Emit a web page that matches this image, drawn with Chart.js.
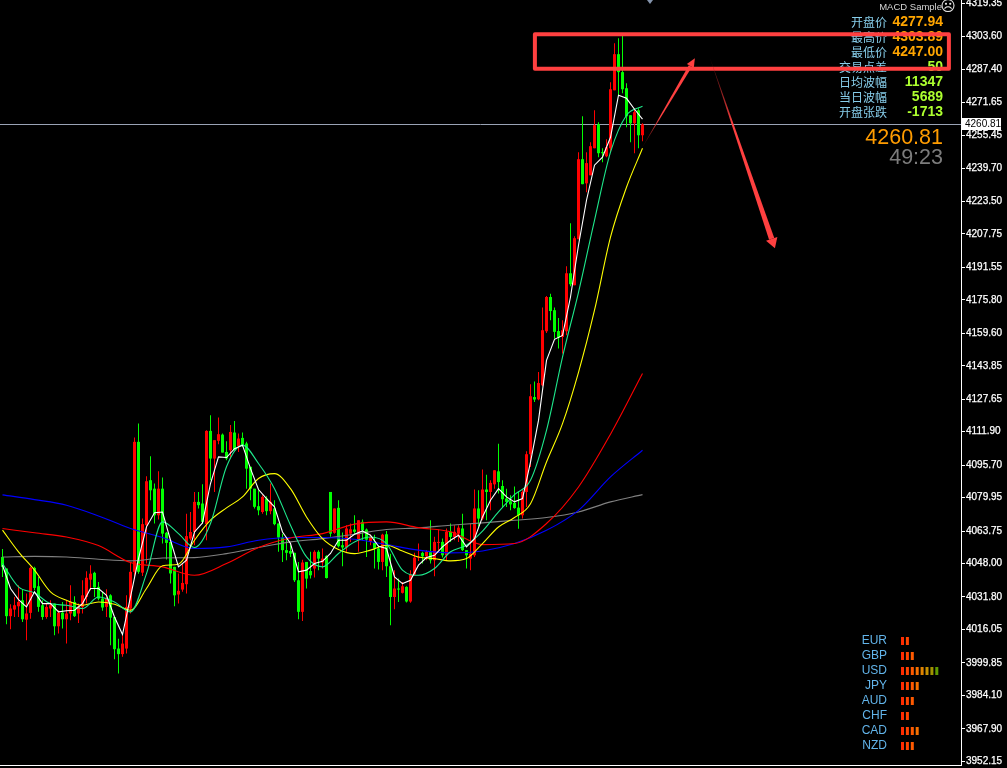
<!DOCTYPE html>
<html>
<head>
<meta charset="utf-8">
<title>MACD Sample</title>
<script src="https://cdn.jsdelivr.net/npm/chart.js@4/dist/chart.umd.min.js"></script>
<style>
  html, body { margin: 0; padding: 0; background: #000; overflow: hidden; }
  canvas { display: block; }
</style>
</head>
<body>
<canvas id="chart" width="1007" height="768"></canvas>
<script>
// ── Candles, index 0 is the oldest bar ──
const opens = [
  4051.2,4045.6,4022.5,4025.7,4027.3,4030.2,4020.8,4024.1,4045.9,4037.0,
  4027.8,4022.1,4026.2,4028.6,4017.6,4024.2,4021.0,4023.8,4029.4,4023.8,
  4027.0,4031.8,4040.2,4043.5,4036.7,4031.0,4027.0,4032.6,4022.1,4006.8,
  4004.1,4006.8,4026.2,4044.0,4107.0,4043.6,4066.6,4088.4,4084.3,4071.4,
  4084.3,4062.9,4058.5,4046.4,4033.0,4035.4,4038.0,4060.1,4063.3,4077.9,
  4077.1,4067.1,4112.3,4098.9,4107.5,4110.5,4102.1,4102.9,4111.5,4104.9,
  4108.9,4106.2,4094.9,4084.3,4075.8,4073.0,4079.5,4073.4,4074.7,4067.4,
  4060.6,4054.5,4054.1,4053.2,4039.9,4024.6,4048.8,4044.4,4045.6,4053.7,
  4048.5,4051.7,4082.7,4062.9,4075.0,4056.9,4055.8,4062.5,4064.5,4059.3,
  4068.2,4064.5,4058.5,4058.0,4055.3,4048.8,4062.2,4046.7,4031.8,4035.9,
  4033.8,4036.7,4029.6,4042.7,4050.9,4053.2,4051.5,4053.5,4049.6,4058.0,
  4058.5,4052.0,4063.4,4060.9,4062.5,4065.0,4054.5,4050.4,4052.0,4074.7,
  4069.8,4083.9,4082.7,4086.4,4092.7,4085.6,4079.5,4078.2,4077.4,4075.1,
  4071.4,4082.7,4101.0,4128.7,4127.6,4134.4,4160.6,4177.2,4170.8,4160.7,
  4157.8,4160.6,4188.7,4182.9,4205.2,4244.0,4232.3,4236.2,4249.3,4260.9,
  4247.4,4245.4,4249.3,4277.4,4294.9,4286.2,4278.4,4265.3,4261.4,4267.7,
  4255.6
];
const highs = [
  4055.0,4045.6,4028.3,4031.8,4037.5,4035.4,4033.5,4046.4,4046.4,4041.5,
  4030.2,4028.6,4030.2,4028.6,4025.4,4029.4,4030.2,4037.5,4032.2,4028.6,
  4039.9,4044.3,4047.2,4044.0,4039.1,4034.3,4035.6,4033.1,4022.1,4011.6,
  4013.3,4032.6,4048.8,4109.1,4115.9,4069.8,4090.3,4100.0,4086.8,4092.8,
  4089.7,4063.3,4058.5,4046.4,4043.2,4048.0,4072.2,4073.0,4082.7,4082.7,
  4086.5,4112.6,4119.9,4107.8,4118.8,4111.0,4107.3,4115.1,4117.1,4111.0,
  4111.5,4107.0,4094.9,4084.3,4083.5,4081.1,4080.6,4086.8,4078.7,4067.4,
  4062.5,4060.1,4056.9,4053.2,4048.8,4049.9,4048.8,4053.7,4054.5,4054.5,
  4055.3,4052.0,4082.7,4074.7,4078.7,4063.0,4066.6,4067.4,4071.4,4069.0,
  4069.3,4065.0,4062.0,4062.0,4056.9,4062.5,4063.8,4052.8,4044.8,4040.7,
  4039.1,4037.0,4044.8,4053.2,4057.7,4053.7,4054.5,4069.0,4061.0,4064.5,
  4060.1,4065.0,4067.4,4066.6,4066.6,4072.2,4054.5,4067.4,4083.9,4083.5,
  4093.6,4091.1,4088.4,4093.2,4106.1,4088.4,4084.3,4081.1,4085.4,4082.9,
  4083.5,4102.4,4134.9,4136.3,4140.9,4172.1,4177.7,4178.8,4172.1,4167.0,
  4165.9,4192.1,4212.9,4206.7,4247.4,4264.8,4247.4,4252.2,4267.7,4261.9,
  4249.3,4253.7,4281.3,4300.2,4302.6,4303.89,4280.8,4265.3,4268.7,4268.7,
  4261.4
];
const lows = [
  4041.5,4018.6,4016.2,4022.1,4022.1,4019.7,4010.8,4021.3,4035.1,4024.6,
  4020.8,4021.3,4022.1,4013.3,4014.1,4016.5,4009.2,4020.5,4022.1,4019.2,
  4023.8,4028.6,4035.1,4031.8,4030.2,4025.1,4022.1,4008.4,4001.6,3994.7,
  4002.8,4004.4,4023.8,4041.5,4043.1,4042.0,4048.0,4078.7,4067.4,4069.3,
  4057.7,4050.0,4038.3,4027.3,4028.6,4034.3,4033.5,4059.3,4056.9,4074.7,
  4067.4,4059.3,4088.4,4082.7,4105.8,4101.8,4098.1,4098.9,4102.9,4102.1,
  4104.5,4084.3,4078.7,4074.7,4071.4,4072.2,4071.4,4071.9,4066.6,4053.7,
  4048.8,4049.6,4051.2,4039.1,4021.0,4020.2,4035.9,4040.7,4041.2,4044.8,
  4045.6,4040.7,4061.0,4062.5,4055.8,4046.7,4053.7,4058.5,4062.5,4053.7,
  4059.3,4051.2,4056.9,4045.6,4045.1,4044.8,4041.5,4018.1,4025.9,4029.4,
  4033.5,4029.1,4029.0,4042.3,4049.3,4048.0,4049.6,4048.0,4041.9,4054.5,
  4050.9,4049.6,4058.5,4059.3,4058.5,4054.1,4045.6,4044.8,4051.2,4065.8,
  4069.0,4069.0,4073.8,4084.3,4081.9,4075.4,4075.4,4073.8,4074.6,4064.9,
  4069.8,4075.4,4094.8,4126.3,4127.1,4133.9,4159.8,4165.9,4157.0,4152.2,
  4149.8,4158.7,4182.4,4182.9,4205.2,4231.9,4228.0,4236.2,4249.3,4245.0,
  4242.5,4245.0,4247.4,4277.4,4275.0,4276.0,4259.5,4252.2,4246.9,4249.3,
  4252.7
];
const closes = [
  4046.4,4022.5,4026.2,4027.8,4029.4,4021.0,4023.8,4045.9,4036.2,4027.0,
  4022.1,4027.0,4027.8,4017.6,4024.2,4021.0,4023.8,4029.4,4022.5,4027.3,
  4032.6,4041.1,4043.1,4036.4,4031.0,4026.7,4031.0,4021.8,4006.5,4004.1,
  4009.2,4027.0,4044.0,4107.0,4044.0,4067.1,4087.9,4083.5,4071.4,4084.3,
  4062.5,4058.0,4043.2,4032.6,4034.8,4038.6,4061.3,4063.3,4077.9,4076.3,
  4068.2,4112.3,4098.9,4107.8,4110.7,4101.8,4098.9,4111.8,4102.9,4108.6,
  4105.4,4094.0,4084.3,4075.5,4073.8,4080.3,4073.4,4077.9,4067.1,4060.6,
  4054.5,4053.2,4052.8,4039.9,4024.6,4048.5,4040.7,4042.3,4053.7,4050.4,
  4050.4,4041.0,4062.5,4074.7,4056.4,4055.8,4065.0,4064.6,4063.4,4069.0,
  4064.2,4059.6,4060.9,4055.3,4048.8,4062.0,4046.7,4031.8,4035.9,4035.4,
  4037.0,4029.6,4042.7,4050.9,4051.2,4051.5,4053.7,4049.6,4058.5,4058.5,
  4052.0,4063.4,4060.9,4063.4,4065.4,4054.5,4052.0,4052.8,4074.7,4069.8,
  4083.9,4082.7,4087.1,4093.2,4087.5,4079.2,4077.9,4076.7,4074.9,4071.4,
  4082.7,4101.0,4129.1,4127.5,4135.5,4161.1,4177.2,4170.4,4160.3,4157.5,
  4161.1,4188.7,4183.4,4205.7,4244.0,4231.9,4242.1,4250.3,4260.5,4246.9,
  4246.9,4249.8,4277.9,4294.9,4286.2,4277.9,4264.8,4261.4,4266.8,4255.6,
  4260.81
];

// ── Moving averages, read every 2nd / 4th / 8th bar ──
const whiteMa = [
  4047.2,4035.9,4030.5,4027.0,4034.3,4028.6,4028.6,4024.6,4025.1,4025.4,
  4028.6,4035.9,4035.9,4032.6,4022.1,4013.6,4031.8,4050.4,4065.8,4072.6,
  4073.0,4059.3,4046.4,4049.6,4063.3,4067.7,4086.8,4099.7,4099.4,4103.7,
  4105.4,4094.0,4083.9,4079.5,4075.5,4063.3,4057.7,4044.0,4044.8,4048.0,
  4049.1,4052.9,4059.3,4059.3,4062.2,4063.8,4061.7,4056.4,4055.3,4041.5,
  4038.3,4039.9,4047.2,4050.9,4052.0,4056.1,4059.3,4061.7,4056.1,4060.1,
  4070.6,4078.7,4084.3,4080.3,4077.9,4079.5,4097.2,4117.4,4146.5,4156.7,
  4158.6,4177.2,4202.3,4224.1,4241.1,4245.0,4254.6,4275.0,4273.5,4268.2,
  4263.4
];
const greenMa = [
  4048.0,4036.7,4033.8,4028.6,4027.8,4026.2,4031.8,4029.4,4024.6,4043.1,
  4068.2,4062.5,4055.8,4067.4,4094.9,4105.4,4096.5,4084.3,4066.6,4051.2,
  4046.4,4052.9,4058.5,4060.9,4057.7,4044.8,4042.3,4045.6,4053.7,4056.9,
  4063.7,4073.0,4081.4,4088.4,4112.6,4148.1,4179.5,4214.4,4247.4,4265.3,
  4269.7
];
const yellowMa = [
  4064.2,4053.7,4044.8,4034.3,4030.2,4027.8,4029.4,4028.3,4025.4,4035.9,
  4046.9,4047.7,4059.3,4069.0,4075.0,4080.3,4089.2,4091.6,4084.3,4070.6,
  4060.1,4054.8,4052.8,4054.5,4056.9,4054.1,4051.2,4050.4,4049.3,4050.4,
  4057.7,4065.7,4070.3,4077.0,4097.2,4115.8,4140.7,4170.8,4206.2,4230.4,
  4249.3
];
const redMa = [
  4065.0,4062.9,4060.9,4056.7,4048.5,4046.4,4042.3,4048.0,4055.8,4060.4,4062.5,
  4067.1,4068.2,4065.4,4063.4,4057.2,4057.7,4067.4,4085.1,4110.7,4140.1
];
const blueMa = [
  4081.3,4079.0,4076.3,4071.1,4065.0,4060.6,4055.3,4056.1,4059.3,4060.6,4060.6,
  4059.8,4057.2,4054.5,4053.2,4054.1,4057.7,4064.1,4073.8,4090.0,4102.9
];
const greyMa = [
  4051.2,4051.5,4051.2,4050.1,4049.3,4050.7,4050.9,4052.8,4055.8,4058.5,4060.1,
  4062.2,4064.5,4065.3,4066.6,4067.7,4069.0,4070.3,4073.0,4077.9,4081.4
];

// ── Axis ──
const priceTicks = [
  4319.35,4303.60,4287.40,4271.65,4255.45,4239.70,4223.50,4207.75,
  4191.55,4175.80,4159.60,4143.85,4127.65,4111.90,4095.70,4079.95,
  4063.75,4048.00,4031.80,4016.05,3999.85,3984.10,3967.90,3952.15
];
const lastPrice = 4260.81;

// ── Info panel ──
const panelLabels = ['开盘价', '最高价', '最低价', '交易点差', '日均波幅', '当日波幅', '开盘张跌'];
const panelValues = ['4277.94', '4303.89', '4247.00', '50', '11347', '5689', '-1713'];
const countdown = '49:23';

// ── Currency strength ──
const currencies = ['EUR', 'GBP', 'USD', 'JPY', 'AUD', 'CHF', 'CAD', 'NZD'];
const strengths = [2, 3, 8, 4, 3, 2, 4, 3];

// ── Hand-drawn marks, as [bar, price] ──
const boxCorners = [[133.1, 4304.6], [236.6, 4287.85]];
const arrowUp = [[159.9, 4249.6], [173.1, 4292.9]];
const arrowDown = [[176.9, 4292.9], [193.1, 4200.8]];

const RED = '#ff0000';
const GREEN = '#00ff00';
const MARK = '#ff4040';
const LABEL = '#87ceeb';
const STRENGTH_COLORS = ['#ff2c00', '#ff4400', '#ff5a00', '#f57000', '#e08400', '#c49000', '#a09400', '#5f9a00'];

function lineFrom(values, step, color, order, width) {
  return {
    type: 'line',
    data: values.map((y, i) => ({ x: i * step, y })),
    borderColor: color,
    borderWidth: width || 1.1,
    pointRadius: 0,
    cubicInterpolationMode: step > 2 ? 'monotone' : 'default',
    order,
  };
}

const barColors = closes.map((c, i) => (c >= opens[i] ? RED : GREEN));

// ═══════════════════════════════════════
// Overlay: panel, strength table, hand marks
// ═══════════════════════════════════════
function drawArrow(ctx, x0, y0, x1, y1, width, headLen, headWidth) {
  const len = Math.hypot(x1 - x0, y1 - y0);
  const ux = (x1 - x0) / len, uy = (y1 - y0) / len;
  const nx = -uy, ny = ux;
  const bx = x1 - ux * headLen, by = y1 - uy * headLen;
  const grad = ctx.createLinearGradient(x0, y0, x1, y1);
  grad.addColorStop(0, 'rgba(120,20,20,0.5)');
  grad.addColorStop(0.35, MARK);
  grad.addColorStop(1, MARK);
  ctx.fillStyle = grad;
  ctx.beginPath();
  ctx.moveTo(x0, y0);
  ctx.lineTo(bx + nx * width / 2, by + ny * width / 2);
  ctx.lineTo(bx - nx * width / 2, by - ny * width / 2);
  ctx.closePath();
  ctx.fill();
  ctx.beginPath();
  ctx.moveTo(x1, y1);
  ctx.lineTo(bx + nx * headWidth / 2, by + ny * headWidth / 2);
  ctx.lineTo(bx - nx * headWidth / 2, by - ny * headWidth / 2);
  ctx.closePath();
  ctx.fill();
}

const overlay = {
  id: 'overlay',
  afterDraw(chart) {
    const { ctx, scales: { x, y } } = chart;
    ctx.save();

    // Fixed-position marker on the top edge
    ctx.fillStyle = '#8494ac';
    ctx.beginPath();
    ctx.moveTo(647, 0);
    ctx.lineTo(653, 0);
    ctx.lineTo(650, 4);
    ctx.closePath();
    ctx.fill();

    // Last price tag
    ctx.fillStyle = '#fff';
    ctx.fillRect(962, 118, 39, 12);
    ctx.fillStyle = '#000';
    ctx.font = "10px 'Liberation Sans'";
    ctx.textAlign = 'left';
    ctx.textBaseline = 'middle';
    ctx.fillText(lastPrice.toFixed(2), 965, 124.5);

    // EA title
    ctx.textAlign = 'right';
    ctx.fillStyle = '#d4d4d4';
    ctx.font = "9.5px 'Liberation Sans'";
    ctx.fillText('MACD Sample', 942, 7);
    ctx.fillStyle = '#e8e8e8';
    ctx.font = "15px 'DejaVu Sans'";
    ctx.fillText('☹', 956, 7);

    // Info rows
    const rowY = [22.5, 37.5, 52.5, 67, 82, 97, 112];
    panelLabels.forEach((label, i) => {
      ctx.fillStyle = LABEL;
      ctx.font = "12px 'Noto Sans CJK SC'";
      ctx.fillText(label, 887, rowY[i]);
      ctx.fillStyle = i < 3 ? '#ffa500' : '#adff2f';
      ctx.font = "bold 14px 'Liberation Sans'";
      ctx.fillText(panelValues[i], 943, rowY[i]);
    });

    ctx.font = "21.5px 'Liberation Sans'";
    ctx.fillStyle = '#ff9c00';
    ctx.fillText(lastPrice.toFixed(2), 943, 138);
    ctx.fillStyle = '#7c7c7c';
    ctx.fillText(countdown, 943, 158);

    // Currency strength
    currencies.forEach((name, i) => {
      const cy = 641 + i * 15;
      ctx.fillStyle = '#62b4ea';
      ctx.font = "12px 'Liberation Sans'";
      ctx.fillText(name, 887, cy);
      for (let n = 0; n < strengths[i]; n++) {
        ctx.fillStyle = STRENGTH_COLORS[n];
        ctx.fillRect(901 + n * 4.9, cy - 4, 3, 8);
      }
    });

    // Red rectangle
    const left = x.getPixelForValue(boxCorners[0][0]);
    const top = y.getPixelForValue(boxCorners[0][1]);
    const right = x.getPixelForValue(boxCorners[1][0]);
    const bottom = y.getPixelForValue(boxCorners[1][1]);
    ctx.strokeStyle = MARK;
    ctx.lineWidth = 4;
    ctx.lineJoin = 'round';
    ctx.strokeRect(left, top, right - left, bottom - top);

    // Arrows
    drawArrow(ctx, x.getPixelForValue(arrowUp[0][0]), y.getPixelForValue(arrowUp[0][1]),
      x.getPixelForValue(arrowUp[1][0]), y.getPixelForValue(arrowUp[1][1]), 3.5, 9, 8);
    drawArrow(ctx, x.getPixelForValue(arrowDown[0][0]), y.getPixelForValue(arrowDown[0][1]),
      x.getPixelForValue(arrowDown[1][0]), y.getPixelForValue(arrowDown[1][1]), 5.5, 10, 12);

    ctx.restore();
  }
};

// ═══════════════════════════════════════
// Chart
// ═══════════════════════════════════════
new Chart(document.getElementById('chart'), {
  data: {
    datasets: [
      {
        type: 'line',
        data: [{ x: -1, y: lastPrice }, { x: 241, y: lastPrice }],
        borderColor: '#9aa3b5',
        borderWidth: 1,
        pointRadius: 0,
        order: 10,
      },
      {
        type: 'bar',
        data: highs.map((h, i) => ({ x: i, y: [lows[i], h] })),
        backgroundColor: barColors,
        barThickness: 1,
        grouped: false,
        inflateAmount: 0,
        order: 9,
      },
      {
        type: 'bar',
        data: opens.map((o, i) => ({ x: i, y: [o, closes[i]] })),
        backgroundColor: barColors,
        barThickness: 3,
        grouped: false,
        inflateAmount: 0,
        order: 8,
      },
      lineFrom(greyMa, 8, '#808080', 7),
      lineFrom(blueMa, 8, '#0000ff', 6),
      lineFrom(redMa, 8, RED, 5),
      lineFrom(yellowMa, 4, '#ffff00', 4),
      lineFrom(greenMa, 4, '#1ee88c', 3),
      lineFrom(whiteMa, 2, '#ffffff', 2),
    ],
  },
  options: {
    responsive: false,
    animation: false,
    events: [],
    layout: { autoPadding: false, padding: { bottom: 3 } },
    plugins: { legend: { display: false }, tooltip: { enabled: false } },
    scales: {
      x: {
        type: 'linear',
        min: -0.625,
        max: 239.625,
        offset: false,
        grid: { display: false },
        border: { color: '#fff', width: 1 },
        ticks: { display: false },
        afterFit: (scale) => { scale.height = 0; },
      },
      y: {
        position: 'right',
        min: 3950.36,
        max: 4321.16,
        grid: { drawOnChartArea: false, color: '#fff', tickLength: 4 },
        border: { color: '#fff', width: 1 },
        ticks: {
          autoSkip: false,
          padding: 1,
          color: '#fff',
          textStrokeColor: '#fff',
          textStrokeWidth: 0.25,
          font: { family: "'Liberation Sans'", size: 10 },
          callback: (v) => Number(v).toFixed(2),
        },
        afterBuildTicks: (scale) => { scale.ticks = priceTicks.map((value) => ({ value })); },
        afterFit: (scale) => {
          scale.width = 46;
          scale.paddingTop = 0;
          scale.paddingBottom = 0;
        },
      },
    },
  },
  plugins: [overlay],
});
</script>
</body>
</html>
